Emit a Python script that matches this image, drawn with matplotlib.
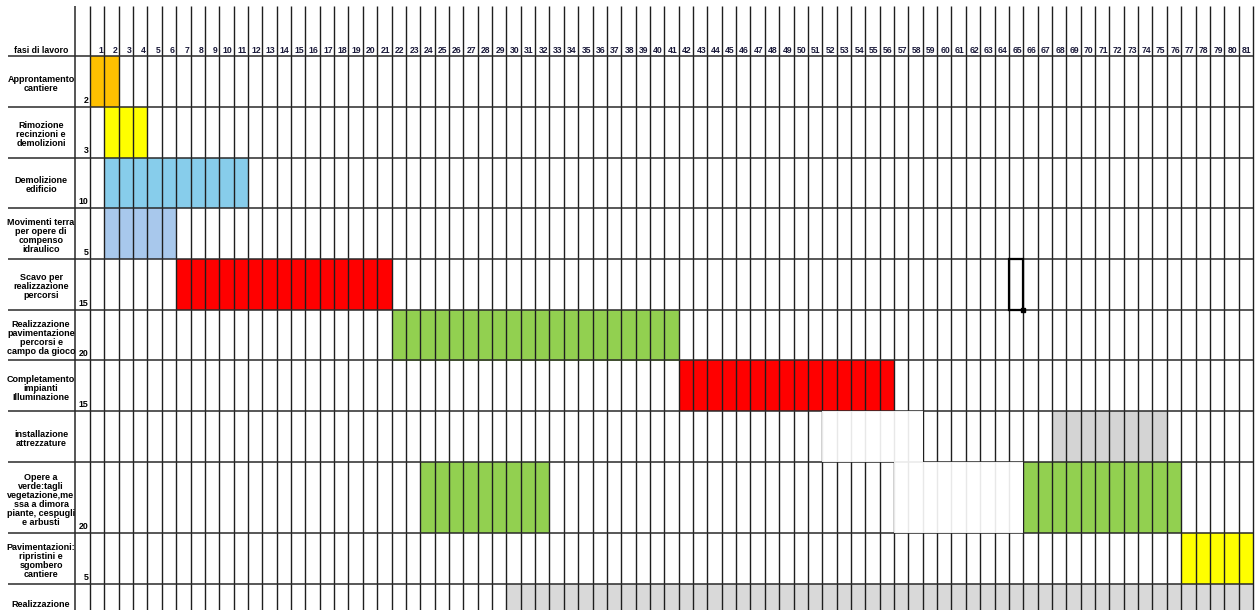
import numpy as np
import matplotlib.pyplot as plt
from matplotlib.patches import Rectangle

plt.rcParams['font.family'] = ['Liberation Sans', 'DejaVu Sans']

# fasi di lavoro (righe del cronoprogramma)
fasi = ["Approntamento\ncantiere",
        "Rimozione\nrecinzioni e\ndemolizioni",
        "Demolizione\nedificio",
        "Movimenti terra\nper opere di\ncompenso\nidraulico",
        "Scavo per\nrealizzazione\npercorsi",
        "Realizzazione\npavimentazione\npercorsi e\ncampo da gioco",
        "Completamento\nimpianti\nIlluminazione",
        "installazione\nattrezzature",
        "Opere a\nverde:tagli\nvegetazione,me\nssa a dimora\npiante, cespugli\ne arbusti",
        "Pavimentazioni:\nripristini e\nsgombero\ncantiere",
        "Realizzazione"]
durate = ["2", "3", "10", "5", "15", "20", "15", "", "20", "5", ""]
altezze = [1, 1, 1, 1, 1, 1, 1, 1, 1.4, 1, 1]
n_colonne = 81

# barre: riga, colonna iniziale, numero di colonne, colore
barre_riga = [0, 1, 2, 3, 4, 5, 6, 7, 8, 8, 9, 10]
barre_inizio = [1, 2, 2, 2, 7, 22, 42, 68, 24, 66, 77, 30]
barre_durata = [2, 3, 10, 5, 15, 20, 15, 8, 9, 11, 5, 52]
barre_colore = ['#FFC000', '#FFFF00', '#87CDEB', '#A8C8EC', '#FF0000', '#92D050',
                '#FF0000', '#D4D4D4', '#92D050', '#92D050', '#FFFF00', '#D9D9D9']

# celle riempite di bianco (griglia sbiadita)
bianche_riga = [7, 8]
bianche_inizio = [52, 57]
bianche_durata = [7, 9]

# cella selezionata
sel_riga, sel_col = 4, 65

# geometria in pixel del foglio
px_col = 14.358
px_riga = 50.75
x0, y0 = 90, 56
W, H = 1260, 610

fig = plt.figure(figsize=(W / 100, H / 100), dpi=100)
ax = fig.add_axes([0, 0, 1, 1])
ax.set_xlim(-x0 / px_col, (W - x0) / px_col)
ax.set_ylim((H - y0) / px_riga, -y0 / px_riga)
ax.axis('off')

top = np.concatenate([[0], np.cumsum(altezze)])
y_fondo = (H - y0) / px_riga + 0.1
x_sin = (8 - x0) / px_col
x_dur = (75 - x0) / px_col

for r, s, n, c in zip(barre_riga, barre_inizio, barre_durata, barre_colore):
    ax.add_patch(Rectangle((s - 1, top[r]), n, altezze[r], fc=c, lw=0, zorder=1))

# griglia
ax.vlines(np.arange(0, n_colonne + 1), -0.985, y_fondo, color='#1e1e1e', lw=1.0, zorder=2)
ax.vlines([x_dur], -0.985, y_fondo, color='#555555', lw=1.4, zorder=2)
ax.hlines(top, x_sin, n_colonne, color='#2a2a2a', lw=1.1, zorder=2)

for r, s, n in zip(bianche_riga, bianche_inizio, bianche_durata):
    ax.add_patch(Rectangle((s - 1, top[r]), n, altezze[r], fc='white', alpha=0.9, lw=0, zorder=3))

# intestazione
ax.text((8 + 75) / 2 / px_col - x0 / px_col, -0.1, 'fasi di lavoro', ha='center', va='center',
        fontsize=6.3, fontweight='bold', zorder=5)
for c in range(1, n_colonne + 1):
    ax.text(c - 0.1, -0.1, str(c), ha='right', va='center', fontsize=6.2,
            fontweight='bold', color='#1a1a3a', zorder=5)

# etichette delle fasi
x_lab = (41 - x0) / px_col
for i, (f, d) in enumerate(zip(fasi, durate)):
    yc = top[i] + altezze[i] / 2 + 0.05 if i < len(fasi) - 1 else top[i] + 0.4
    t = ax.text(x_lab, yc, f, ha='center', va='center', fontsize=6.5, fontweight='bold',
                linespacing=1.0, zorder=5)
    clip = Rectangle((x_sin, top[i]), x_dur - x_sin, altezze[i], transform=ax.transData)
    t.set_clip_path(clip)
    if d:
        ax.text(-0.1, top[i + 1] - 0.04, d, ha='right', va='bottom', fontsize=6.3,
                fontweight='bold', zorder=5)

# cella selezionata
ax.add_patch(Rectangle((sel_col - 1, top[sel_riga]), 1, altezze[sel_riga], fc='none',
                       ec='black', lw=1.6, zorder=6))
ax.plot([sel_col], [top[sel_riga + 1]], marker='s', color='black', ms=3.5, zorder=7)

fig.savefig('out.png', dpi=100)
